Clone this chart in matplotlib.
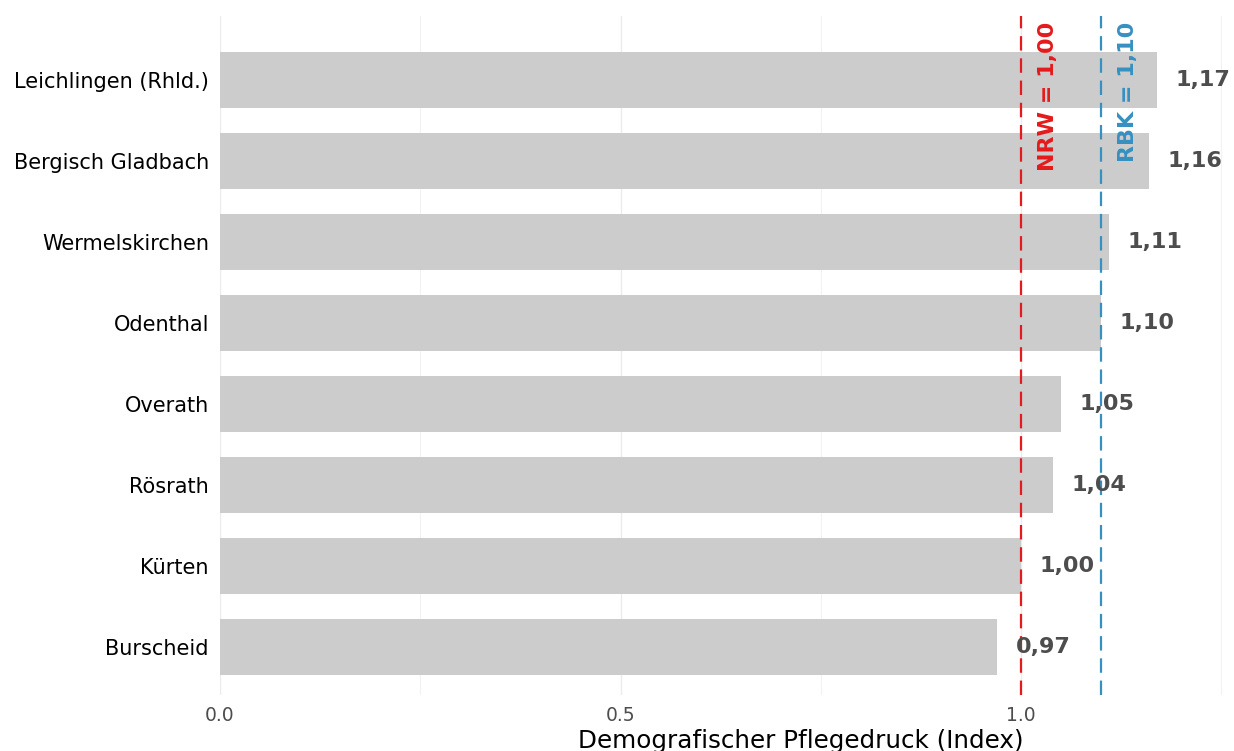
import matplotlib
matplotlib.use("Agg")
import matplotlib.pyplot as plt
from matplotlib.ticker import MultipleLocator

plt.rcParams["font.family"] = ["DejaVu Sans"]

# Data: demographic care pressure index by municipality (top to bottom)
gemeinden = ["Leichlingen (Rhld.)", "Bergisch Gladbach", "Wermelskirchen", "Odenthal",
             "Overath", "Rösrath", "Kürten", "Burscheid"]
index_werte = [1.17, 1.16, 1.11, 1.10, 1.05, 1.04, 1.00, 0.97]
wert_labels = ["1,17", "1,16", "1,11", "1,10", "1,05", "1,04", "1,00", "0,97"]

# Reference lines
nrw_wert = 1.00
rbk_wert = 1.10
nrw_label = "NRW = 1,00"
rbk_label = "RBK = 1,10"

x_ticks = [0.0, 0.5, 1.0]
x_tick_labels = ["0.0", "0.5", "1.0"]
x_titel = "Demografischer Pflegedruck (Index)"

W, H = 1234, 751
fig = plt.figure(figsize=(W / 100, H / 100), dpi=100)
left, right, top, bottom = 220, 1234, 16, 695
ax = fig.add_axes([left / W, 1 - bottom / H, (right - left) / W, (bottom - top) / H])

ypos = list(range(len(gemeinden)))
ax.barh(ypos, index_werte, height=0.7, color="#cccccc", zorder=2)

for y, v, lab in zip(ypos, index_werte, wert_labels):
    ax.annotate(lab, xy=(v, y), xytext=(13.5, 0), textcoords="offset points",
                ha="left", va="center", fontsize=16, fontweight="bold",
                color="#4d4d4d", zorder=4)

dash = (0, (6.5, 3.5))
ax.axvline(nrw_wert, color="#e41a1c", linestyle=dash, linewidth=1.6, zorder=3)
ax.axvline(rbk_wert, color="#3690c0", linestyle=dash, linewidth=1.6, zorder=3)
ax.text(nrw_wert + 0.034, -0.72, nrw_label, rotation=90, ha="center", va="top",
        fontsize=16, fontweight="bold", color="#e41a1c", zorder=4)
ax.text(rbk_wert + 0.034, -0.72, rbk_label, rotation=90, ha="center", va="top",
        fontsize=16, fontweight="bold", color="#3690c0", zorder=4)

ax.set_xlim(0, (right - left) / 801)
ax.set_ylim((bottom - 80) / 81, (top - 80) / 81)

ax.set_yticks(ypos)
ax.set_yticklabels(gemeinden, fontsize=15, color="black")
ax.set_xticks(x_ticks)
ax.set_xticklabels(x_tick_labels, fontsize=13.5, color="#4d4d4d")
ax.xaxis.set_minor_locator(MultipleLocator(0.25))
ax.tick_params(axis="both", which="both", length=0)
ax.tick_params(axis="x", pad=8)
ax.tick_params(axis="y", pad=8)

ax.grid(axis="x", which="major", color="#ebebeb", linewidth=1.0, zorder=0)
ax.grid(axis="x", which="minor", color="#f2f2f2", linewidth=0.8, zorder=0)
ax.grid(axis="y", visible=False)
ax.set_axisbelow(True)
for s in ax.spines.values():
    s.set_visible(False)

fig.text(801 / W, 1 - 748 / H, x_titel, ha="center", va="baseline", fontsize=17.7,
         color="black")

fig.savefig("out.png", dpi=100, facecolor="white")
